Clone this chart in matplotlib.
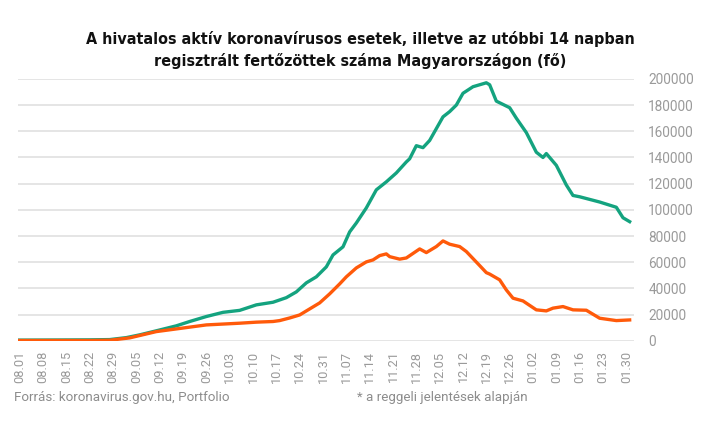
import matplotlib
matplotlib.use("Agg")
import matplotlib.pyplot as plt
import matplotlib.dates as mdates
from matplotlib import font_manager as fm
import pandas as pd

# aktív esetek (zöld)
active_dates = [
    "2020-08-01", "2020-08-13", "2020-08-22", "2020-08-28", "2020-09-02", "2020-09-06",
    "2020-09-11", "2020-09-17", "2020-09-21", "2020-09-26", "2020-10-01", "2020-10-06",
    "2020-10-11", "2020-10-16", "2020-10-20", "2020-10-23", "2020-10-26", "2020-10-29",
    "2020-11-01", "2020-11-03", "2020-11-06", "2020-11-08", "2020-11-10", "2020-11-13",
    "2020-11-16", "2020-11-19", "2020-11-22", "2020-11-25", "2020-11-26", "2020-11-28",
    "2020-11-30", "2020-12-02", "2020-12-06", "2020-12-08", "2020-12-10", "2020-12-12",
    "2020-12-15", "2020-12-19", "2020-12-20", "2020-12-22", "2020-12-26", "2020-12-28",
    "2020-12-31", "2021-01-03", "2021-01-05", "2021-01-06", "2021-01-09", "2021-01-12",
    "2021-01-14", "2021-01-16", "2021-01-22", "2021-01-27", "2021-01-29", "2021-01-31",
]
active_values = [
    600, 700, 800, 1000, 2500, 4600,
    7700, 11500, 14800, 18600, 21800, 23300,
    27500, 29500, 33000, 37400, 44300, 48900,
    56500, 65600, 71800, 83200, 90000, 101500,
    115300, 121400, 128200, 136600, 139000, 149000,
    147500, 153000, 171000, 175000, 180000, 189000,
    194000, 197000, 195500, 183000, 178000, 170000,
    159000, 144000, 140000, 143000, 134000, 119000,
    111000, 110000, 106000, 102000, 94000, 91000,
]

# utóbbi 14 napban regisztrált fertőzöttek (narancs)
new14_dates = [
    "2020-08-01", "2020-08-22", "2020-08-28", "2020-09-03", "2020-09-11", "2020-09-21",
    "2020-09-26", "2020-10-06", "2020-10-11", "2020-10-16", "2020-10-18", "2020-10-21",
    "2020-10-24", "2020-10-27", "2020-10-30", "2020-11-02", "2020-11-05", "2020-11-07",
    "2020-11-10", "2020-11-13", "2020-11-15", "2020-11-17", "2020-11-19", "2020-11-20",
    "2020-11-23", "2020-11-25", "2020-11-29", "2020-12-01", "2020-12-04", "2020-12-06",
    "2020-12-08", "2020-12-11", "2020-12-13", "2020-12-17", "2020-12-19", "2020-12-20",
    "2020-12-23", "2020-12-25", "2020-12-27", "2020-12-30", "2021-01-03", "2021-01-06",
    "2021-01-08", "2021-01-11", "2021-01-14", "2021-01-18", "2021-01-22", "2021-01-27",
    "2021-01-31",
]
new14_values = [
    300, 300, 500, 2300, 7100, 10500,
    12200, 13500, 14300, 14800, 15500, 17500,
    19800, 24400, 29000, 35900, 43500, 48900,
    55700, 60300, 61800, 65100, 66400, 64300,
    62400, 63300, 70200, 67400, 72000, 76300,
    73800, 72000, 68200, 57500, 52100, 51000,
    46600, 38900, 32600, 30500, 23700, 22900,
    25000, 26200, 23700, 23400, 17300, 15500,
    16000,
]

y_ticks = [0, 20000, 40000, 60000, 80000, 100000, 120000, 140000, 160000, 180000, 200000]

title = ("A hivatalos aktív koronavírusos esetek, illetve az utóbbi 14 napban\n"
         "regisztrált fertőzöttek száma Magyarországon (fő)")
source = "Forrás: koronavirus.gov.hu, Portfolio"
note = "* a reggeli jelentések alapján"

GREEN = "#14a37f"
ORANGE = "#ff5a0a"
GREY = "#9a9a9a"

plt.rcParams["font.family"] = ["Roboto", "DejaVu Sans"]


# keskeny félkövér betű a címhez, ha van ilyen
def narrow_bold():
    for f in fm.fontManager.ttflist:
        name = f.name.lower()
        if ("narrow" in name or "condensed" in name or "condensed" in str(f.stretch)) \
                and f.weight in ("bold", 700):
            return fm.FontProperties(fname=f.fname)
    return None


title_font = narrow_bold()

fig = plt.figure(figsize=(7.2, 4.24), dpi=100)
ax = fig.add_axes([0.025, 0.196, 0.856, 0.618])

ax.plot(pd.to_datetime(active_dates), active_values, color=GREEN, lw=2.4, solid_joinstyle="round")
ax.plot(pd.to_datetime(new14_dates), new14_values, color=ORANGE, lw=2.4, solid_joinstyle="round")

start = pd.Timestamp("2020-08-01")
ax.set_xlim(start - pd.Timedelta(hours=12), start + pd.Timedelta(days=184.4))
ax.set_ylim(0, 200000)

ticks = pd.date_range("2020-08-01", "2021-01-30", freq="7D")
ax.set_xticks(ticks)
ax.xaxis.set_major_formatter(mdates.DateFormatter("%m.%d"))
ax.tick_params(axis="x", rotation=90, length=0, pad=7, labelsize=9.2, labelcolor=GREY)

ax.yaxis.tick_right()
ax.set_yticks(y_ticks)
ax.set_yticklabels([str(v) for v in y_ticks])
ax.tick_params(axis="y", length=0, pad=10, labelsize=9.8, labelcolor=GREY)
for lab in ax.get_yticklabels():
    lab.set_horizontalalignment("left")

ax.grid(axis="y", color="#e3e3e3", lw=1.3)
ax.set_axisbelow(True)
for s in ax.spines.values():
    s.set_visible(False)

if title_font is not None:
    title_font.set_size(11.5)
    fig.text(0.5, 0.883, title, ha="center", va="center", fontproperties=title_font,
             linespacing=1.45, color="#111111")
else:
    fig.text(0.5, 0.883, title, ha="center", va="center", fontsize=10.5, fontweight="bold",
             linespacing=1.45, color="#111111")
fig.text(0.019, 0.062, source, ha="left", va="center", fontsize=9.6, color="#8c8c8c")
fig.text(0.496, 0.062, note, ha="left", va="center", fontsize=9.6, color="#8c8c8c")

fig.savefig("out.png", dpi=100)
